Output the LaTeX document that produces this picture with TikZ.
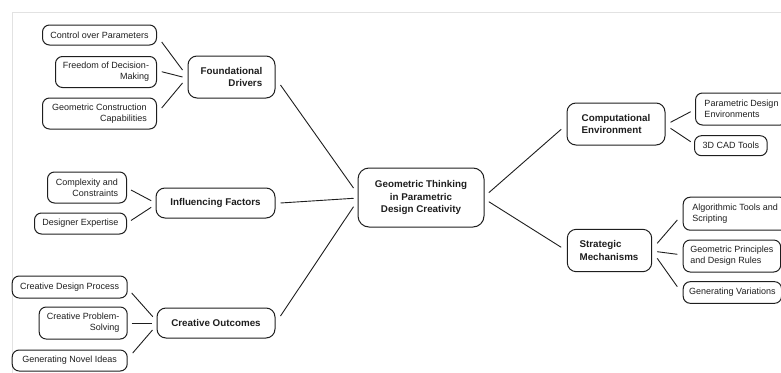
\documentclass[tikz,border=0pt]{standalone}
\usepackage{fontspec}
\setmainfont{Liberation Sans}
\definecolor{ink}{HTML}{1E1E1E}
\definecolor{frame}{HTML}{E2E2E2}
\tikzset{
  leaf/.style={draw=ink, line width=1pt, rounded corners=7pt, inner xsep=6pt, inner ysep=2pt,
    font=\fontsize{9}{10.8}\selectfont, text=ink},
  hub/.style={draw=ink, line width=1pt, rounded corners=9pt, inner xsep=9pt, inner ysep=3pt,
    font=\fontsize{9.8}{12.2}\selectfont\bfseries, text=ink},
  link/.style={draw=ink, line width=0.9pt}
}
\begin{document}
\begin{tikzpicture}[x=1pt,y=-1pt]
\useasboundingbox (0,0) rectangle (781,372);
\draw[frame, line width=1.4pt] (12.5,380) -- (12.5,12.3) -- (790,12.3);

% left group 1
\node[leaf, anchor=east, minimum width=114pt, minimum height=20pt] (cop) at (157,35) {Control over Parameters};
\node[leaf, anchor=east, minimum width=101pt, minimum height=31pt, align=right] (fdm) at (157,72) {Freedom of Decision-\\Making};
\node[leaf, anchor=east, minimum width=114pt, minimum height=31pt, align=right] (gcc) at (157,113.5) {Geometric Construction\\Capabilities};
\node[hub, minimum width=87pt, minimum height=42pt, align=right] (fd) at (231.5,77) {Foundational\\Drivers};

% left group 2
\node[leaf, anchor=east, minimum width=79pt, minimum height=31pt, align=right] (cc) at (127,187.5) {Complexity and\\Constraints};
\node[leaf, anchor=east, minimum width=92pt, minimum height=21pt] (de) at (127,223.5) {Designer Expertise};
\node[hub, minimum width=119pt, minimum height=30pt] (inf) at (215.5,203) {Influencing Factors};

% left group 3
\node[leaf, anchor=east, minimum width=115pt, minimum height=22pt] (cdp) at (127.7,287) {Creative Design Process};
\node[leaf, anchor=east, minimum width=88pt, minimum height=32pt, align=right] (cps) at (127.7,323) {Creative Problem-\\Solving};
\node[leaf, anchor=east, minimum width=115pt, minimum height=21pt] (gni) at (127.7,360.5) {Generating Novel Ideas};
\node[hub, minimum width=118pt, minimum height=30pt] (co) at (216,323) {Creative Outcomes};

% centre
\node[hub, minimum width=126pt, minimum height=59pt, align=center, rounded corners=11pt] (ctr) at (421,197.5) {Geometric Thinking\\in Parametric\\Design Creativity};

% right group 1
\node[hub, minimum width=98pt, minimum height=42pt, align=left] (ce) at (616,124) {Computational\\Environment};
\node[leaf, anchor=west, minimum width=92pt, minimum height=32pt, align=left] (pde) at (695,109) {Parametric Design\\Environments\hspace*{14pt}};
\node[leaf, anchor=west, minimum width=72.7pt, minimum height=20pt] (cad) at (694,145.7) {3D CAD Tools};

% right group 2
\node[hub, minimum width=84.4pt, minimum height=42.4pt, align=left] (sm) at (609.5,250.5) {Strategic\\Mechanisms\hspace*{1pt}};
\node[leaf, anchor=west, minimum width=104pt, minimum height=33pt, align=left] (ats) at (682.7,213.7) {Algorithmic Tools and\\Scripting\hspace*{48pt}};
\node[leaf, anchor=west, minimum width=97.5pt, minimum height=32pt, align=left] (gpd) at (682.7,256) {Geometric Principles\\and Design Rules\hspace*{12pt}};
\node[leaf, anchor=west, minimum width=97pt, minimum height=21.6pt] (gv) at (682.7,292.5) {Generating Variations};

% connectors
\draw[link] ([shift={(4.7,7)}]cop.east) -- ([shift={(-5,-7)}]fd.west);
\draw[link] ([shift={(4.7,-0.3)}]fdm.east) -- ([shift={(-5,0)}]fd.west);
\draw[link] ([shift={(4.7,-5.5)}]gcc.east) -- ([shift={(-5,6)}]fd.west);
\draw[link] ([shift={(5,8)}]fd.east) -- ([shift={(-4,-9.5)}]ctr.west);

\draw[link] ([shift={(4,2.5)}]cc.east) -- ([shift={(-4.3,-2.3)}]inf.west);
\draw[link] ([shift={(4,-3)}]de.east) -- ([shift={(-4.3,4.3)}]inf.west);
\draw[link] ([shift={(5,0)}]inf.east) -- ([shift={(-4,0.8)}]ctr.west);

\draw[link] ([shift={(4,6)}]cdp.east) -- ([shift={(-3.7,-6.3)}]co.west);
\draw[link] ([shift={(4,0)}]cps.east) -- ([shift={(-5,0)}]co.west);
\draw[link] ([shift={(5,-7.5)}]gni.east) -- ([shift={(-4,7)}]co.west);
\draw[link] ([shift={(5,-7)}]co.east) -- ([shift={(-4,9.2)}]ctr.west);

\draw[link] ([shift={(4.3,-4.8)}]ctr.east) -- ([shift={(-5.3,5.3)}]ce.west);
\draw[link] ([shift={(4.3,4.2)}]ctr.east) -- ([shift={(-5.6,-3.2)}]sm.west);

\draw[link] ([shift={(5,-1.7)}]ce.east) -- ([shift={(-4.3,2.7)}]pde.west);
\draw[link] ([shift={(5,4.3)}]ce.east) -- ([shift={(-3.3,-4)}]cad.west);

\draw[link] ([shift={(5,-7.2)}]sm.east) -- ([shift={(-5.4,6.3)}]ats.west);
\draw[link] ([shift={(5,1.2)}]sm.east) -- ([shift={(-5.4,-1.7)}]gpd.west);
\draw[link] ([shift={(5,7.8)}]sm.east) -- ([shift={(-5.4,-5.8)}]gv.west);
\end{tikzpicture}
\end{document}
